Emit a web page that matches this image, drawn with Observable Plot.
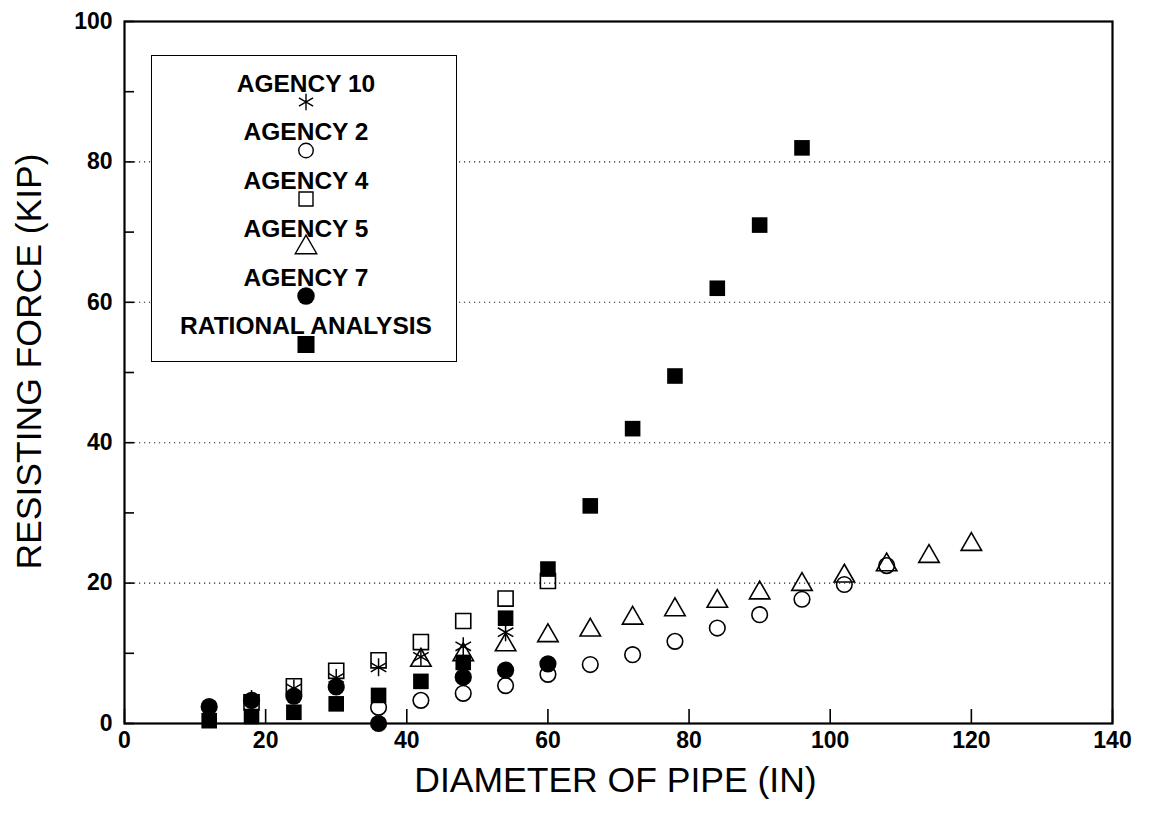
<!DOCTYPE html>
<html><head><meta charset="utf-8">
<script src="https://cdn.jsdelivr.net/npm/d3@7"></script>
<script src="https://cdn.jsdelivr.net/npm/@observablehq/plot@0.6"></script>
<style>
body{margin:0;background:#fff;}
#wrap{position:relative;width:1150px;height:814px;}
#legend{position:absolute;left:151px;top:55px;width:306px;height:307px;border:1.5px solid #000;background:#fff;box-sizing:border-box;}
</style></head><body><div id="wrap"></div>
<script>
// ---- data ----
const xTicks = [0, 20, 40, 60, 80, 100, 120, 140];
const yTicks = [0, 20, 40, 60, 80, 100];
const yMinorTicks = [0, 10, 20, 30, 40, 50, 60, 70, 80, 90, 100];
const gridValues = [20, 40, 60, 80];

const agency10X = [18, 24, 30, 36, 42, 48, 54];
const agency10Y = [3.5, 5.0, 6.5, 8.0, 9.5, 11.0, 13.0];

const agency2X = [36, 42, 48, 54, 60, 66, 72, 78, 84, 90, 96, 102, 108];
const agency2Y = [2.3, 3.3, 4.3, 5.4, 7.0, 8.4, 9.8, 11.7, 13.6, 15.5, 17.7, 19.8, 22.5];

const agency4X = [18, 24, 30, 36, 42, 48, 54, 60];
const agency4Y = [3.0, 5.3, 7.5, 9.0, 11.6, 14.6, 17.8, 20.3];

const agency5X = [42, 48, 54, 60, 66, 72, 78, 84, 90, 96, 102, 108, 114, 120];
const agency5Y = [9.0, 9.8, 11.2, 12.5, 13.3, 15.0, 16.2, 17.4, 18.6, 19.8, 21.0, 22.6, 23.8, 25.5];

const agency7X = [12, 18, 24, 30, 36, 48, 54, 60];
const agency7Y = [2.4, 3.3, 3.9, 5.2, 0, 6.6, 7.6, 8.5];

const rationalX = [12, 18, 24, 30, 36, 42, 48, 54, 60, 66, 72, 78, 84, 90, 96];
const rationalY = [0.4, 1.0, 1.6, 2.8, 4.0, 6.0, 8.7, 15.0, 22.0, 31.0, 42.0, 49.5, 62.0, 71.0, 82.0];

const seriesNames = ["AGENCY 10", "AGENCY 2", "AGENCY 4", "AGENCY 5", "AGENCY 7", "RATIONAL ANALYSIS"];
const xTitle = "DIAMETER OF PIPE (IN)";
const yTitle = "RESISTING FORCE (KIP)";

// ---- build tables ----
const zip = (xs, ys) => xs.map((x, i) => ({x, y: ys[i]}));
const a10 = zip(agency10X, agency10Y);
const a2 = zip(agency2X, agency2Y);
const a4 = zip(agency4X, agency4Y);
const a5 = zip(agency5X, agency5Y);
const a7 = zip(agency7X, agency7Y);
const ra = zip(rationalX, rationalY);

const font = "'Liberation Sans', Arial, Helvetica, sans-serif";
const W = 1150, H = 814, mL = 124, mR = 38, mT = 21, mB = 91;
const innerW = W - mL - mR, innerH = H - mT - mB;

const open = {stroke: "black", fill: "none", strokeWidth: 1.6};

const chart = Plot.plot({
  width: W, height: H,
  marginLeft: mL, marginRight: mR, marginTop: mT, marginBottom: mB,
  style: {fontFamily: font, background: "white", color: "black"},
  x: {domain: [0, 140], label: null},
  y: {domain: [0, 100], label: null},
  marks: [
    Plot.gridY(gridValues, {stroke: "#222", strokeOpacity: 1, strokeWidth: 1.1, strokeDasharray: "1.2,3.8"}),
    // inward ticks
    Plot.tickX(xTicks, {x: d => d, stroke: "black", strokeWidth: 1.6, insetTop: innerH - 14}),
    Plot.tickY(yMinorTicks, {y: d => d, stroke: "black", strokeWidth: 1.6, insetRight: innerW - 10}),
    Plot.axisX({ticks: xTicks, tickSize: 0, tickPadding: 8, fontSize: 23, fontWeight: "bold", label: null}),
    Plot.axisY({ticks: yTicks, tickSize: 0, tickPadding: 12, fontSize: 23, fontWeight: "bold", label: null}),
    // data
    Plot.dot(a4, {x: "x", y: "y", symbol: "square", r: 8.5, ...open}),
    Plot.dot(a5, {x: "x", y: "y", symbol: "triangle", r: 7.6, ...open}),
    Plot.dot(a2, {x: "x", y: "y", symbol: "circle", r: 7.8, ...open}),
    Plot.dot(a10, {x: "x", y: "y", symbol: "asterisk", r: 8.5, stroke: "black", strokeWidth: 1.5}),
    Plot.dot(a7, {x: "x", y: "y", symbol: "circle", r: 8.6, fill: "black", stroke: "none"}),
    Plot.dot(ra, {x: "x", y: "y", symbol: "square", r: 8.8, fill: "black", stroke: "none"}),
    Plot.frame({stroke: "black", strokeWidth: 2.2}),
    // titles
    Plot.text([xTitle], {frameAnchor: "bottom", textAnchor: "middle", dx: -3, dy: 68, fontSize: 35.5, text: d => d}),
    Plot.text([yTitle], {frameAnchor: "left", textAnchor: "middle", dx: -95, dy: -11, rotate: -90, fontSize: 35.5, text: d => d})
  ]
});

const wrap = document.getElementById("wrap");
wrap.appendChild(chart);

// ---- legend (HTML overlay) ----
const legendSymbols = [d3.symbolAsterisk, d3.symbolCircle, d3.symbolSquare, d3.symbolTriangle, d3.symbolCircle, d3.symbolSquare];
const legendFilled = [false, false, false, false, true, true];
const legendSizes = [190, 165, 195, 200, 240, 290];
const lg = document.createElement("div");
lg.id = "legend";
wrap.appendChild(lg);
const svg = d3.select(lg).append("svg").attr("width", 303).attr("height", 304)
  .style("position", "absolute").style("left", "0").style("top", "0");
const rowStep = 48.5;
seriesNames.forEach((name, i) => {
  const cy = 27 + i * rowStep;
  svg.append("text").attr("x", 154).attr("y", cy).attr("text-anchor", "middle")
    .attr("dominant-baseline", "central").attr("font-family", font)
    .attr("font-weight", "bold").attr("font-size", 24.5).text(name);
  svg.append("path")
    .attr("transform", `translate(154,${cy + 19})`)
    .attr("d", d3.symbol(legendSymbols[i], legendSizes[i])())
    .attr("fill", legendFilled[i] ? "black" : "none")
    .attr("stroke", legendFilled[i] ? "none" : "black")
    .attr("stroke-width", 1.4);
});
</script></body></html>
